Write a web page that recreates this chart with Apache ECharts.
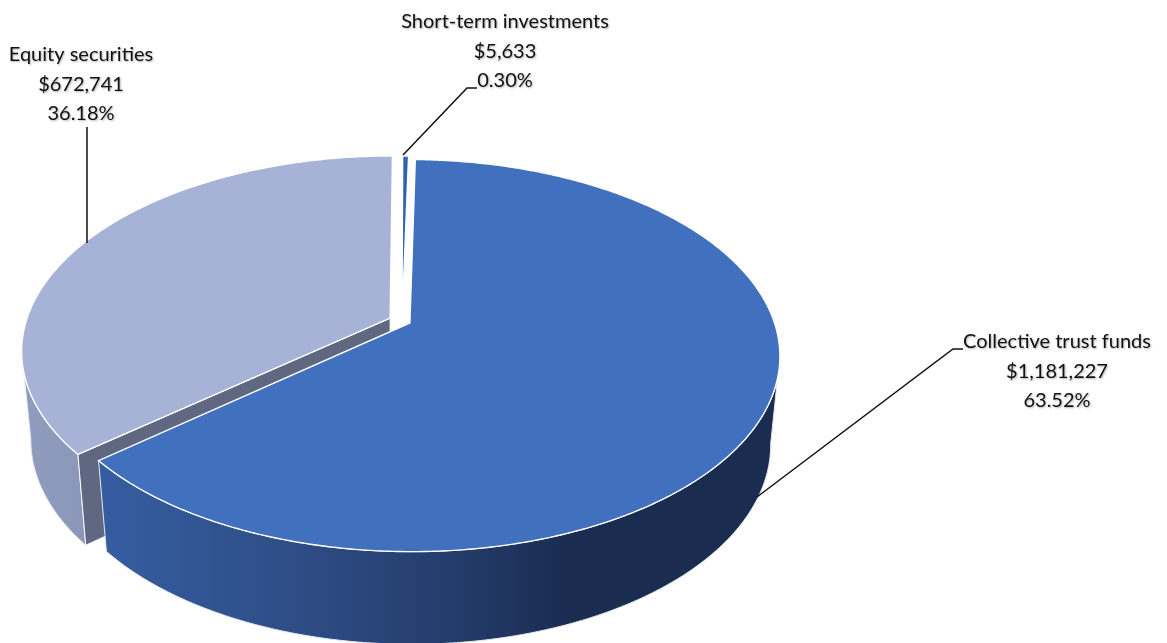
<!DOCTYPE html>
<html>
<head>
<meta charset="utf-8">
<style>html,body{margin:0;padding:0;background:#fff}#c{width:1167px;height:643px}</style>
<script src="https://cdn.jsdelivr.net/npm/echarts@6/dist/echarts.min.js"></script>
</head>
<body>
<div id="c"></div>
<script>
// ---- data ----
const categories = ['Collective trust funds', 'Equity securities', 'Short-term investments'];
const amounts = [1181227, 672741, 5633];

// ---- style / layout ----
const topColors = ['#4170BF', '#A6B3D6', '#2F62AE'];
const faceColors = ['#1B2E54', '#5F6880', '#2F62AE'];
const explode = [0.024, 0.036, 0.015];
const drawOrder = [1, 2, 0];
const labelCenters = [[1057, 342], [81, 55], [505, 22]];
const labelLineGap = 29.5;
const leaders = [
  [[757, 497], [953, 349], [963, 349]],
  [[87, 243], [87, 127]],
  [[403, 155], [467, 88], [477, 88]]
];
const wallStops = [
  [[100, '#355DA1'], [300, '#2E4D85'], [470, '#233A68'], [570, '#1A2C50'], [790, '#1A2C50']],
  [[25, '#8F9CBD'], [90, '#8A97B8']],
  [[390, '#2F62AE'], [410, '#2F62AE']]
];
const startAngle = 1.2, CX = 402, CY = 321, RX = 364, RY = 190, PERSP = 0.166;
const DEPTH = 88, BOTTOM_X = 0.975, BOTTOM_Y = 1.02;

const total = amounts.reduce((a, b) => a + b, 0);
const rad = d => d * Math.PI / 180;
const spans = [];
let acc = startAngle;
amounts.forEach(v => { const s = v / total * 360; spans.push([acc, acc + s]); acc += s; });

function topPt(i, deg, r) {
  const mid = rad((spans[i][0] + spans[i][1]) / 2), t = rad(deg), e = explode[i];
  const u = r * Math.sin(t) + e * Math.sin(mid);
  const v = -r * Math.cos(t) - e * Math.cos(mid);
  const d = 1 - PERSP * v;
  return [CX + RX * u / d, CY + RY * v / d];
}
function bottomPt(i, deg, r) {
  const p = topPt(i, deg, r), a = topPt(i, 0, 0);
  return [a[0] + (p[0] - a[0]) * BOTTOM_X, a[1] + (p[1] - a[1]) * BOTTOM_Y + DEPTH];
}
function arcAngles(i) {
  const [a, b] = spans[i], n = Math.max(2, Math.ceil((b - a) / 0.5)), out = [];
  for (let k = 0; k <= n; k++) out.push(a + (b - a) * k / n);
  return out;
}
function money(v) { return '$' + v.toLocaleString('en-US'); }

function renderItem(params, api) {
  const i = api.value(0);
  const val = api.value(1);
  const children = [];
  const angs = arcAngles(i);

  // outer wall: the part between the two horizontal extremes of the rim
  const front = angs.filter(a => -Math.cos(rad(a)) > PERSP);
  if (front.length > 1) {
    const pts = front.map(a => topPt(i, a, 1)).concat(front.slice().reverse().map(a => bottomPt(i, a, 1)));
    const st = wallStops[i];
    const x0 = st[0][0], x1 = st[st.length - 1][0];
    children.push({
      type: 'polygon', shape: { points: pts },
      style: {
        fill: new echarts.graphic.LinearGradient(x0, 0, x1, 0,
          st.map(s => ({ offset: (s[0] - x0) / (x1 - x0), color: s[1] })), true),
        stroke: '#e6e9f2', lineWidth: 1
      }
    });
  }
  // cut face at the slice's start, when it looks toward the viewer
  if (-Math.sin(rad(spans[i][0])) > 0.1) {
    const a = spans[i][0];
    children.push({
      type: 'polygon',
      shape: { points: [topPt(i, a, 0), topPt(i, a, 1), bottomPt(i, a, 1), bottomPt(i, a, 0)] },
      style: { fill: faceColors[i], stroke: '#ffffff', lineWidth: 1 }
    });
  }
  // top surface
  children.push({
    type: 'polygon',
    shape: { points: [topPt(i, 0, 0)].concat(angs.map(a => topPt(i, a, 1))) },
    style: { fill: topColors[i], stroke: '#ffffff', lineWidth: 1.4, lineJoin: 'miter' }
  });
  // leader line
  children.push({
    type: 'polyline', shape: { points: leaders[i] },
    style: { fill: null, stroke: '#111111', lineWidth: 1.5 }
  });
  // label
  const lines = [categories[i], money(val), (val / total * 100).toFixed(2) + '%'];
  lines.forEach((t, k) => children.push({
    type: 'text',
    style: {
      text: t, x: labelCenters[i][0], y: labelCenters[i][1] + k * labelLineGap,
      textAlign: 'center', textVerticalAlign: 'middle',
      font: '20px Lato, "Open Sans", sans-serif', fill: '#111111',
      textShadowColor: 'rgba(0,0,0,0.3)', textShadowBlur: 2, textShadowOffsetX: 1, textShadowOffsetY: 1
    }
  }));
  return { type: 'group', children };
}

const chart = echarts.init(document.getElementById('c'), null, { renderer: 'canvas' });
chart.setOption({
  backgroundColor: '#ffffff',
  animation: false,
  series: [{
    type: 'custom',
    coordinateSystem: 'none',
    silent: true,
    renderItem,
    data: drawOrder.map(i => ({ name: categories[i], value: [i, amounts[i]] }))
  }]
});
</script>
</body>
</html>
